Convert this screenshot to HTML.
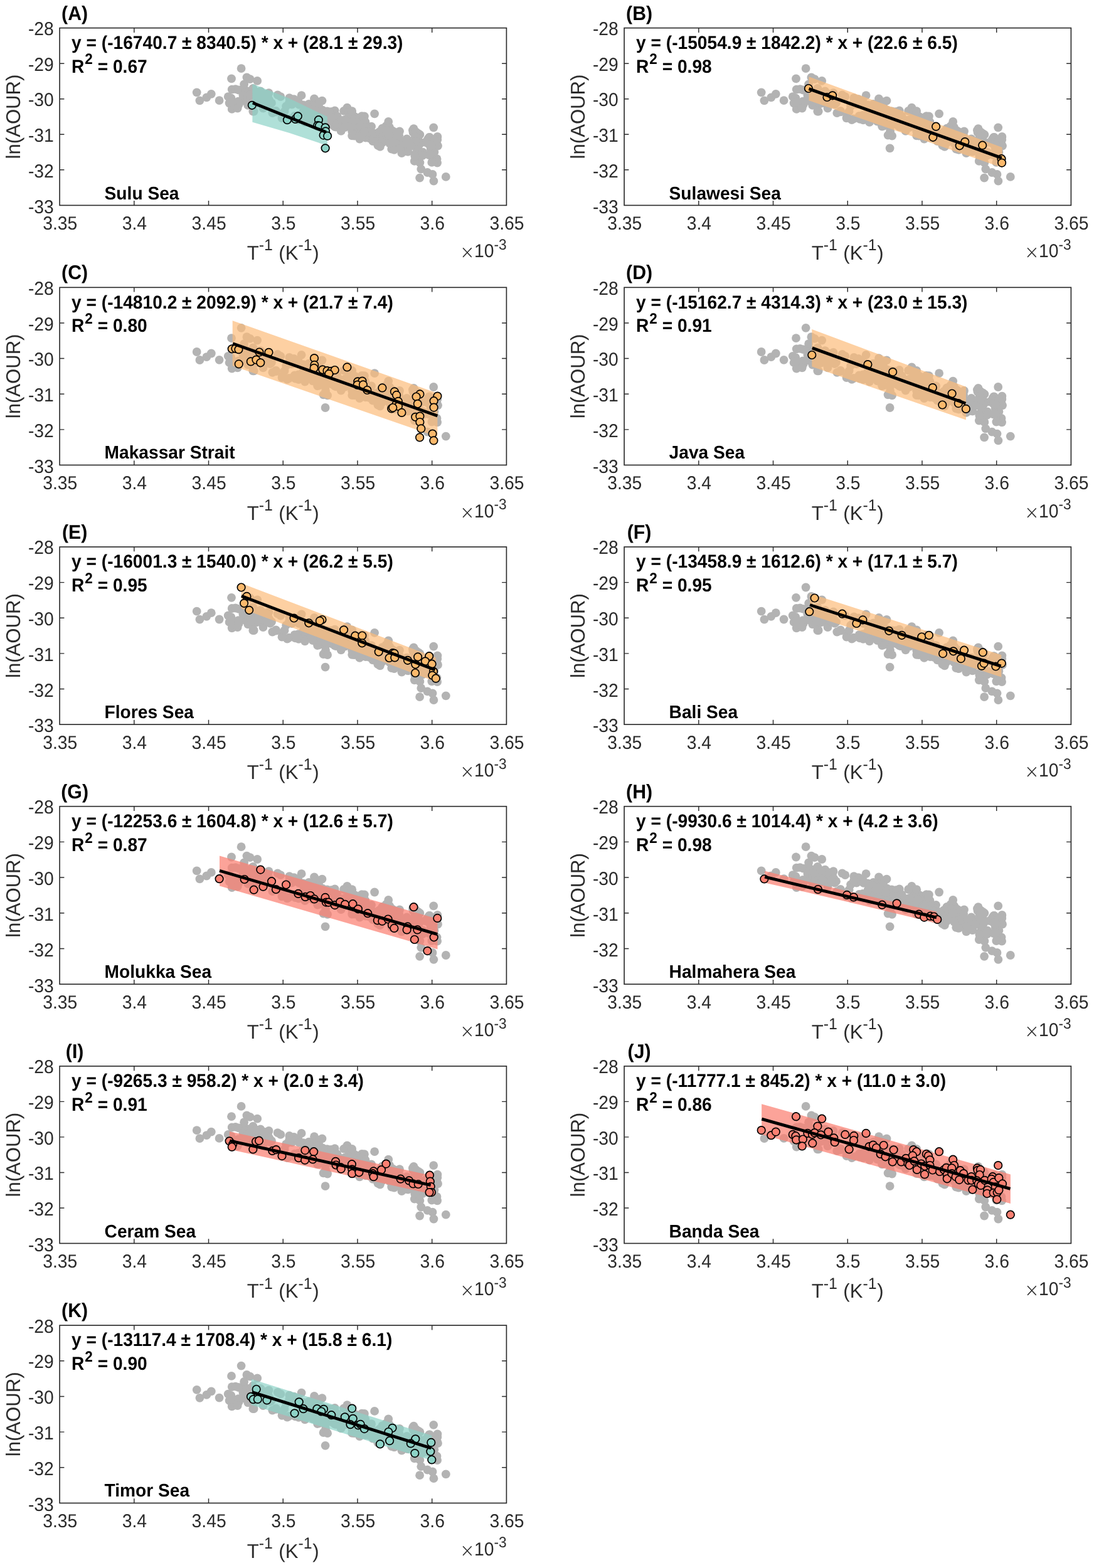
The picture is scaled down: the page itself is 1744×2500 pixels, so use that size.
<!DOCTYPE html>
<html lang="en"><head><meta charset="utf-8"><title>ln(AOUR) versus inverse temperature for eleven Indonesian seas</title>
<style>
html,body{margin:0;padding:0;background:#fff}
body{width:1744px;height:2500px;overflow:hidden}
svg{display:block;font-family:"Liberation Sans",sans-serif;text-rendering:geometricPrecision}
</style></head><body>
<svg width="1744" height="2500" viewBox="0 0 1744 2500">
<rect width="1744" height="2500" fill="#fff"/>
<defs><g id="cloud" fill="#b3b3b3"><circle cx="306.7" cy="123.2" r="6.9"/><circle cx="362.8" cy="146.6" r="6.9"/><circle cx="375.7" cy="145.3" r="6.9"/><circle cx="379.7" cy="140.7" r="6.9"/><circle cx="412.8" cy="146.6" r="6.9"/><circle cx="411.1" cy="155.4" r="6.9"/><circle cx="413.8" cy="156.0" r="6.9"/><circle cx="423.5" cy="158.7" r="6.9"/><circle cx="424.0" cy="164.8" r="6.9"/><circle cx="420.5" cy="171.0" r="6.9"/><circle cx="427.0" cy="172.1" r="6.9"/><circle cx="423.5" cy="191.7" r="6.9"/><circle cx="293.8" cy="96.4" r="6.9"/><circle cx="323.4" cy="110.4" r="6.9"/><circle cx="332.0" cy="107.7" r="6.9"/><circle cx="497.0" cy="157.1" r="6.9"/><circle cx="492.2" cy="174.2" r="6.9"/><circle cx="534.6" cy="187.7" r="6.9"/><circle cx="543.2" cy="181.5" r="6.9"/><circle cx="571.1" cy="187.1" r="6.9"/><circle cx="601.4" cy="208.6" r="6.9"/><circle cx="602.0" cy="215.0" r="6.9"/><circle cx="274.6" cy="98.0" r="6.9"/><circle cx="280.3" cy="97.5" r="6.9"/><circle cx="285.3" cy="98.9" r="6.9"/><circle cx="285.6" cy="122.1" r="6.9"/><circle cx="304.7" cy="118.1" r="6.9"/><circle cx="313.3" cy="115.3" r="6.9"/><circle cx="320.2" cy="120.0" r="6.9"/><circle cx="318.3" cy="103.2" r="6.9"/><circle cx="333.4" cy="103.5" r="6.9"/><circle cx="405.9" cy="112.8" r="6.9"/><circle cx="406.2" cy="123.6" r="6.9"/><circle cx="405.5" cy="128.6" r="6.9"/><circle cx="419.2" cy="131.0" r="6.9"/><circle cx="426.4" cy="132.8" r="6.9"/><circle cx="432.9" cy="133.5" r="6.9"/><circle cx="438.6" cy="131.7" r="6.9"/><circle cx="429.3" cy="137.8" r="6.9"/><circle cx="458.3" cy="127.1" r="6.9"/><circle cx="475.2" cy="150.0" r="6.9"/><circle cx="482.4" cy="149.3" r="6.9"/><circle cx="474.5" cy="155.4" r="6.9"/><circle cx="483.8" cy="155.1" r="6.9"/><circle cx="490.3" cy="163.7" r="6.9"/><circle cx="514.3" cy="160.1" r="6.9"/><circle cx="533.8" cy="166.1" r="6.9"/><circle cx="537.0" cy="171.6" r="6.9"/><circle cx="539.8" cy="181.6" r="6.9"/><circle cx="536.2" cy="186.7" r="6.9"/><circle cx="539.8" cy="189.5" r="6.9"/><circle cx="529.1" cy="193.1" r="6.9"/><circle cx="531.2" cy="191.7" r="6.9"/><circle cx="545.3" cy="199.6" r="6.9"/><circle cx="574.3" cy="170.1" r="6.9"/><circle cx="568.5" cy="174.2" r="6.9"/><circle cx="570.7" cy="185.5" r="6.9"/><circle cx="567.1" cy="206.5" r="6.9"/><circle cx="574.3" cy="205.3" r="6.9"/><circle cx="574.3" cy="214.7" r="6.9"/><circle cx="576.2" cy="225.1" r="6.9"/><circle cx="574.0" cy="239.1" r="6.9"/><circle cx="602.3" cy="173.3" r="6.9"/><circle cx="596.5" cy="180.9" r="6.9"/><circle cx="596.5" cy="191.3" r="6.9"/><circle cx="594.4" cy="233.3" r="6.9"/><circle cx="596.3" cy="244.1" r="6.9"/><circle cx="299.2" cy="107.7" r="6.9"/><circle cx="388.3" cy="122.8" r="6.9"/><circle cx="428.1" cy="134.8" r="6.9"/><circle cx="491.7" cy="159.8" r="6.9"/><circle cx="522.5" cy="169.2" r="6.9"/><circle cx="507.2" cy="187.2" r="6.9"/><circle cx="532.7" cy="184.8" r="6.9"/><circle cx="544.8" cy="193.6" r="6.9"/><circle cx="289.5" cy="64.5" r="6.9"/><circle cx="298.3" cy="78.9" r="6.9"/><circle cx="294.0" cy="89.8" r="6.9"/><circle cx="302.1" cy="100.8" r="6.9"/><circle cx="373.5" cy="113.5" r="6.9"/><circle cx="397.2" cy="121.3" r="6.9"/><circle cx="418.4" cy="116.0" r="6.9"/><circle cx="414.7" cy="117.9" r="6.9"/><circle cx="453.0" cy="132.3" r="6.9"/><circle cx="471.1" cy="141.7" r="6.9"/><circle cx="482.3" cy="141.5" r="6.9"/><circle cx="482.1" cy="153.3" r="6.9"/><circle cx="508.6" cy="167.3" r="6.9"/><circle cx="531.0" cy="169.2" r="6.9"/><circle cx="533.5" cy="169.8" r="6.9"/><circle cx="525.4" cy="177.0" r="6.9"/><circle cx="534.2" cy="176.4" r="6.9"/><circle cx="554.8" cy="180.8" r="6.9"/><circle cx="571.0" cy="175.4" r="6.9"/><circle cx="567.2" cy="187.3" r="6.9"/><circle cx="589.1" cy="174.2" r="6.9"/><circle cx="582.8" cy="182.3" r="6.9"/><circle cx="593.5" cy="186.7" r="6.9"/><circle cx="566.9" cy="201.0" r="6.9"/><circle cx="595.9" cy="198.5" r="6.9"/><circle cx="594.1" cy="204.8" r="6.9"/><circle cx="599.7" cy="209.7" r="6.9"/><circle cx="303.5" cy="81.5" r="6.9"/><circle cx="295.2" cy="103.2" r="6.9"/><circle cx="347.5" cy="106.7" r="6.9"/><circle cx="380.3" cy="116.4" r="6.9"/><circle cx="370.3" cy="122.0" r="6.9"/><circle cx="422.1" cy="133.8" r="6.9"/><circle cx="442.5" cy="140.8" r="6.9"/><circle cx="474.2" cy="143.5" r="6.9"/><circle cx="485.8" cy="140.8" r="6.9"/><circle cx="508.0" cy="170.1" r="6.9"/><circle cx="524.7" cy="166.3" r="6.9"/><circle cx="541.9" cy="164.7" r="6.9"/><circle cx="536.8" cy="178.1" r="6.9"/><circle cx="571.7" cy="168.2" r="6.9"/><circle cx="569.8" cy="189.7" r="6.9"/><circle cx="573.5" cy="185.6" r="6.9"/><circle cx="592.3" cy="190.5" r="6.9"/><circle cx="601.7" cy="185.6" r="6.9"/><circle cx="254.5" cy="115.5" r="6.9"/><circle cx="294.6" cy="116.3" r="6.9"/><circle cx="320.2" cy="100.9" r="6.9"/><circle cx="309.6" cy="133.0" r="6.9"/><circle cx="324.4" cy="128.0" r="6.9"/><circle cx="337.9" cy="119.5" r="6.9"/><circle cx="344.8" cy="132.3" r="6.9"/><circle cx="361.0" cy="124.8" r="6.9"/><circle cx="380.3" cy="139.2" r="6.9"/><circle cx="391.6" cy="144.2" r="6.9"/><circle cx="399.7" cy="142.3" r="6.9"/><circle cx="405.9" cy="147.7" r="6.9"/><circle cx="423.4" cy="145.2" r="6.9"/><circle cx="424.7" cy="152.9" r="6.9"/><circle cx="428.6" cy="153.0" r="6.9"/><circle cx="438.6" cy="157.4" r="6.9"/><circle cx="447.1" cy="152.4" r="6.9"/><circle cx="454.9" cy="156.1" r="6.9"/><circle cx="467.3" cy="155.5" r="6.9"/><circle cx="475.8" cy="163.6" r="6.9"/><circle cx="491.1" cy="170.5" r="6.9"/><circle cx="506.7" cy="181.7" r="6.9"/><circle cx="514.2" cy="183.0" r="6.9"/><circle cx="523.5" cy="179.8" r="6.9"/><circle cx="529.8" cy="189.2" r="6.9"/><circle cx="533.3" cy="194.2" r="6.9"/><circle cx="554.7" cy="191.7" r="6.9"/><circle cx="553.5" cy="196.7" r="6.9"/><circle cx="570.3" cy="196.7" r="6.9"/><circle cx="564.4" cy="160.5" r="6.9"/><circle cx="602.2" cy="178.2" r="6.9"/><circle cx="565.7" cy="212.3" r="6.9"/><circle cx="596.6" cy="208.6" r="6.9"/><circle cx="586.3" cy="230.4" r="6.9"/><circle cx="223.3" cy="115.7" r="6.9"/><circle cx="308.9" cy="132.3" r="6.9"/><circle cx="355.0" cy="141.2" r="6.9"/><circle cx="365.8" cy="144.7" r="6.9"/><circle cx="411.1" cy="157.0" r="6.9"/><circle cx="434.5" cy="154.6" r="6.9"/><circle cx="469.7" cy="172.0" r="6.9"/><circle cx="478.2" cy="176.9" r="6.9"/><circle cx="487.9" cy="175.0" r="6.9"/><circle cx="493.8" cy="175.8" r="6.9"/><circle cx="499.2" cy="180.4" r="6.9"/><circle cx="270.5" cy="119.9" r="6.9"/><circle cx="276.1" cy="124.9" r="6.9"/><circle cx="274.6" cy="129.3" r="6.9"/><circle cx="312.9" cy="120.6" r="6.9"/><circle cx="317.9" cy="119.3" r="6.9"/><circle cx="308.2" cy="133.0" r="6.9"/><circle cx="339.2" cy="135.5" r="6.9"/><circle cx="345.1" cy="133.7" r="6.9"/><circle cx="354.4" cy="143.7" r="6.9"/><circle cx="381.0" cy="146.8" r="6.9"/><circle cx="391.3" cy="134.7" r="6.9"/><circle cx="405.1" cy="136.8" r="6.9"/><circle cx="391.0" cy="150.3" r="6.9"/><circle cx="403.5" cy="149.0" r="6.9"/><circle cx="439.9" cy="152.4" r="6.9"/><circle cx="440.5" cy="158.1" r="6.9"/><circle cx="448.0" cy="161.8" r="6.9"/><circle cx="448.6" cy="164.3" r="6.9"/><circle cx="465.8" cy="156.8" r="6.9"/><circle cx="466.1" cy="164.9" r="6.9"/><circle cx="466.1" cy="171.8" r="6.9"/><circle cx="477.3" cy="169.9" r="6.9"/><circle cx="500.4" cy="168.0" r="6.9"/><circle cx="499.2" cy="171.8" r="6.9"/><circle cx="500.4" cy="176.8" r="6.9"/><circle cx="512.9" cy="165.8" r="6.9"/><circle cx="520.4" cy="156.2" r="6.9"/><circle cx="543.5" cy="180.3" r="6.9"/><circle cx="557.0" cy="183.0" r="6.9"/><circle cx="563.5" cy="188.0" r="6.9"/><circle cx="571.6" cy="188.6" r="6.9"/><circle cx="589.9" cy="174.3" r="6.9"/><circle cx="590.7" cy="184.3" r="6.9"/><circle cx="591.6" cy="192.4" r="6.9"/><circle cx="592.8" cy="201.7" r="6.9"/><circle cx="589.4" cy="201.7" r="6.9"/><circle cx="218.6" cy="102.7" r="6.9"/><circle cx="234.2" cy="110.8" r="6.9"/><circle cx="241.7" cy="105.2" r="6.9"/><circle cx="273.9" cy="80.8" r="6.9"/><circle cx="315.1" cy="84.3" r="6.9"/><circle cx="308.3" cy="96.2" r="6.9"/><circle cx="268.6" cy="109.5" r="6.9"/><circle cx="273.3" cy="111.8" r="6.9"/><circle cx="274.2" cy="118.0" r="6.9"/><circle cx="284.8" cy="117.1" r="6.9"/><circle cx="283.6" cy="128.0" r="6.9"/><circle cx="292.3" cy="107.4" r="6.9"/><circle cx="299.8" cy="109.3" r="6.9"/><circle cx="303.5" cy="106.8" r="6.9"/><circle cx="300.2" cy="123.3" r="6.9"/><circle cx="313.5" cy="109.9" r="6.9"/><circle cx="325.4" cy="105.2" r="6.9"/><circle cx="334.1" cy="114.9" r="6.9"/><circle cx="335.6" cy="121.8" r="6.9"/><circle cx="352.2" cy="109.5" r="6.9"/><circle cx="366.2" cy="111.5" r="6.9"/><circle cx="365.9" cy="118.6" r="6.9"/><circle cx="358.5" cy="133.0" r="6.9"/><circle cx="385.5" cy="107.5" r="6.9"/><circle cx="390.5" cy="128.7" r="6.9"/><circle cx="396.8" cy="126.2" r="6.9"/><circle cx="401.8" cy="130.6" r="6.9"/><circle cx="413.6" cy="126.6" r="6.9"/><circle cx="408.6" cy="140.5" r="6.9"/><circle cx="416.4" cy="144.9" r="6.9"/><circle cx="429.5" cy="133.9" r="6.9"/><circle cx="427.7" cy="153.0" r="6.9"/><circle cx="441.7" cy="153.0" r="6.9"/><circle cx="449.2" cy="147.4" r="6.9"/><circle cx="452.3" cy="155.5" r="6.9"/><circle cx="455.4" cy="154.3" r="6.9"/><circle cx="454.8" cy="158.6" r="6.9"/><circle cx="461.1" cy="133.7" r="6.9"/><circle cx="466.0" cy="136.8" r="6.9"/><circle cx="459.8" cy="143.0" r="6.9"/><circle cx="462.3" cy="151.8" r="6.9"/><circle cx="466.7" cy="165.5" r="6.9"/><circle cx="473.5" cy="156.1" r="6.9"/><circle cx="479.2" cy="159.9" r="6.9"/><circle cx="478.9" cy="173.0" r="6.9"/><circle cx="481.7" cy="140.5" r="6.9"/><circle cx="484.8" cy="143.3" r="6.9"/><circle cx="487.3" cy="149.9" r="6.9"/><circle cx="487.3" cy="158.6" r="6.9"/><circle cx="491.6" cy="166.1" r="6.9"/><circle cx="502.0" cy="136.8" r="6.9"/><circle cx="502.9" cy="168.6" r="6.9"/><circle cx="509.7" cy="165.5" r="6.9"/><circle cx="513.5" cy="162.4" r="6.9"/><circle cx="514.7" cy="173.6" r="6.9"/><circle cx="514.7" cy="179.9" r="6.9"/><circle cx="524.1" cy="149.3" r="6.9"/><circle cx="526.0" cy="158.6" r="6.9"/><circle cx="522.2" cy="163.0" r="6.9"/><circle cx="522.2" cy="171.7" r="6.9"/><circle cx="528.5" cy="176.7" r="6.9"/><circle cx="534.1" cy="181.7" r="6.9"/><circle cx="535.7" cy="166.8" r="6.9"/><circle cx="541.0" cy="171.7" r="6.9"/><circle cx="548.4" cy="182.4" r="6.9"/><circle cx="553.4" cy="176.7" r="6.9"/><circle cx="553.4" cy="182.4" r="6.9"/><circle cx="555.3" cy="197.3" r="6.9"/><circle cx="562.8" cy="163.0" r="6.9"/><circle cx="563.4" cy="166.4" r="6.9"/><circle cx="567.8" cy="165.5" r="6.9"/><circle cx="566.5" cy="173.6" r="6.9"/><circle cx="562.2" cy="183.0" r="6.9"/><circle cx="564.7" cy="188.0" r="6.9"/><circle cx="568.4" cy="190.5" r="6.9"/><circle cx="574.7" cy="182.4" r="6.9"/><circle cx="579.0" cy="198.0" r="6.9"/><circle cx="578.4" cy="203.6" r="6.9"/><circle cx="587.3" cy="176.8" r="6.9"/><circle cx="585.5" cy="180.5" r="6.9"/><circle cx="588.6" cy="185.5" r="6.9"/><circle cx="591.7" cy="193.0" r="6.9"/><circle cx="597.3" cy="178.7" r="6.9"/><circle cx="602.9" cy="188.0" r="6.9"/><circle cx="596.1" cy="158.7" r="6.9"/><circle cx="588.6" cy="202.4" r="6.9"/><circle cx="594.6" cy="201.8" r="6.9"/><circle cx="597.3" cy="198.0" r="6.9"/><circle cx="594.2" cy="213.0" r="6.9"/><circle cx="615.7" cy="237.3" r="6.9"/><circle cx="313.6" cy="101.9" r="6.9"/><circle cx="304.8" cy="113.7" r="6.9"/><circle cx="308.6" cy="118.1" r="6.9"/><circle cx="315.7" cy="117.8" r="6.9"/><circle cx="330.4" cy="119.3" r="6.9"/><circle cx="381.6" cy="122.2" r="6.9"/><circle cx="374.5" cy="140.2" r="6.9"/><circle cx="388.5" cy="133.1" r="6.9"/><circle cx="410.3" cy="133.1" r="6.9"/><circle cx="420.9" cy="133.7" r="6.9"/><circle cx="417.2" cy="137.4" r="6.9"/><circle cx="433.2" cy="143.1" r="6.9"/><circle cx="454.7" cy="146.2" r="6.9"/><circle cx="466.1" cy="132.5" r="6.9"/><circle cx="467.6" cy="148.7" r="6.9"/><circle cx="463.4" cy="158.1" r="6.9"/><circle cx="476.1" cy="159.3" r="6.9"/><circle cx="479.6" cy="157.8" r="6.9"/><circle cx="485.8" cy="165.0" r="6.9"/><circle cx="530.4" cy="163.7" r="6.9"/><circle cx="524.2" cy="169.9" r="6.9"/><circle cx="526.0" cy="184.1" r="6.9"/><circle cx="510.8" cy="189.3" r="6.9"/><circle cx="567.2" cy="181.2" r="6.9"/><circle cx="559.7" cy="188.3" r="6.9"/><circle cx="566.2" cy="204.0" r="6.9"/><circle cx="592.2" cy="186.8" r="6.9"/><circle cx="591.2" cy="201.2" r="6.9"/><circle cx="593.2" cy="214.3" r="6.9"/></g></defs>
<g transform="translate(95.10,44.60)">
<use href="#cloud"/>
<polygon points="307.3,89.2 366.3,112.5 426.7,141.5 426.7,187.7 366.3,167.5 307.3,150.1" fill="#8dd3c7" fill-opacity="0.7"/>
<g fill="#8dd3c7" stroke="#000" stroke-width="1.7"><circle cx="306.7" cy="123.2" r="6.25"/><circle cx="362.8" cy="146.6" r="6.25"/><circle cx="375.7" cy="145.3" r="6.25"/><circle cx="379.7" cy="140.7" r="6.25"/><circle cx="412.8" cy="146.6" r="6.25"/><circle cx="411.1" cy="155.4" r="6.25"/><circle cx="413.8" cy="156.0" r="6.25"/><circle cx="423.5" cy="158.7" r="6.25"/><circle cx="424.0" cy="164.8" r="6.25"/><circle cx="420.5" cy="171.0" r="6.25"/><circle cx="427.0" cy="172.1" r="6.25"/><circle cx="423.5" cy="191.7" r="6.25"/></g>
<line x1="307.80" y1="119.46" x2="424.83" y2="166.15" stroke="#000" stroke-width="4.9"/>
<rect x="0" y="0" width="712.3" height="282.8" fill="none" stroke="#2b2b2b" stroke-width="1.65"/>
<path d="M118.72 282.8v-7.3M118.72 0v7.3M237.43 282.8v-7.3M237.43 0v7.3M356.15 282.8v-7.3M356.15 0v7.3M474.87 282.8v-7.3M474.87 0v7.3M593.58 282.8v-7.3M593.58 0v7.3M0 56.56h7.3M712.3 56.56h-7.3M0 113.12h7.3M712.3 113.12h-7.3M0 169.68h7.3M712.3 169.68h-7.3M0 226.24h7.3M712.3 226.24h-7.3" stroke="#2b2b2b" stroke-width="1.45" fill="none"/>
<g fill="#2b2b2b">
<text transform="translate(0.60,321.20) scale(1,1.06)" font-size="28.3" text-anchor="middle">3.35</text>
<text transform="translate(119.32,321.20) scale(1,1.06)" font-size="28.3" text-anchor="middle">3.4</text>
<text transform="translate(238.03,321.20) scale(1,1.06)" font-size="28.3" text-anchor="middle">3.45</text>
<text transform="translate(356.75,321.20) scale(1,1.06)" font-size="28.3" text-anchor="middle">3.5</text>
<text transform="translate(475.47,321.20) scale(1,1.06)" font-size="28.3" text-anchor="middle">3.55</text>
<text transform="translate(594.18,321.20) scale(1,1.06)" font-size="28.3" text-anchor="middle">3.6</text>
<text transform="translate(712.90,321.20) scale(1,1.06)" font-size="28.3" text-anchor="middle">3.65</text>
<text transform="translate(-9.30,11.40) scale(1,1.06)" font-size="28.3" text-anchor="end">-28</text>
<text transform="translate(-9.30,68.14) scale(1,1.06)" font-size="28.3" text-anchor="end">-29</text>
<text transform="translate(-9.30,124.88) scale(1,1.06)" font-size="28.3" text-anchor="end">-30</text>
<text transform="translate(-9.30,181.62) scale(1,1.06)" font-size="28.3" text-anchor="end">-31</text>
<text transform="translate(-9.30,238.36) scale(1,1.06)" font-size="28.3" text-anchor="end">-32</text>
<text transform="translate(-9.30,295.10) scale(1,1.06)" font-size="28.3" text-anchor="end">-33</text>
<text transform="translate(712.60,365.80) scale(1,1.06)" font-size="28.3" text-anchor="end"><tspan font-family="DejaVu Sans" font-weight="200" font-size="28.30" dy="1.9">×</tspan><tspan dy="-1.9" dx="-0.6">10</tspan><tspan font-size="22.64" dy="-11.60">-3</tspan></text>
<text transform="translate(356.15,369.80) scale(1,1.02)" font-size="31.1" text-anchor="middle">T<tspan font-size="24.88" dy="-14.62">-1</tspan><tspan dy="14.62" dx="0.8"> (K</tspan><tspan font-size="24.88" dy="-14.62">-1</tspan><tspan dy="14.62" dx="0.8">)</tspan></text>
<text transform="translate(-63.60,141.40) rotate(-90) scale(1,1.02)" font-size="31.1" text-anchor="middle">ln(AOUR)</text>
</g>
<g font-weight="bold" fill="#000">
<text transform="translate(24.00,-12.90) scale(1,1.05)" font-size="30.3" text-anchor="middle">(A)</text>
<text transform="translate(19.00,33.20) scale(1,1.06)" font-size="28.15">y = (-16740.7 ± 8340.5) * x + (28.1 ± 29.3)</text>
<text transform="translate(19.00,71.00) scale(1,1.06)" font-size="28.15">R<tspan dx="0.9" font-size="22.52" dy="-12.39">2</tspan><tspan dy="12.39"> = 0.67</tspan></text>
<text transform="translate(71.50,273.00) scale(1,1.03)" font-size="28.15">Sulu Sea</text>
</g>
</g>
<g transform="translate(995.10,44.60)">
<use href="#cloud"/>
<polygon points="294.4,77.6 602.5,190.3 602.5,222.6 294.4,115.7" fill="#fcbc7a" fill-opacity="0.7"/>
<g fill="#fcb96c" stroke="#000" stroke-width="1.7"><circle cx="293.8" cy="96.4" r="6.25"/><circle cx="323.4" cy="110.4" r="6.25"/><circle cx="332.0" cy="107.7" r="6.25"/><circle cx="497.0" cy="157.1" r="6.25"/><circle cx="492.2" cy="174.2" r="6.25"/><circle cx="534.6" cy="187.7" r="6.25"/><circle cx="543.2" cy="181.5" r="6.25"/><circle cx="571.1" cy="187.1" r="6.25"/><circle cx="601.4" cy="208.6" r="6.25"/><circle cx="602.0" cy="215.0" r="6.25"/></g>
<line x1="294.38" y1="96.97" x2="601.72" y2="207.22" stroke="#000" stroke-width="4.9"/>
<rect x="0" y="0" width="712.3" height="282.8" fill="none" stroke="#2b2b2b" stroke-width="1.65"/>
<path d="M118.72 282.8v-7.3M118.72 0v7.3M237.43 282.8v-7.3M237.43 0v7.3M356.15 282.8v-7.3M356.15 0v7.3M474.87 282.8v-7.3M474.87 0v7.3M593.58 282.8v-7.3M593.58 0v7.3M0 56.56h7.3M712.3 56.56h-7.3M0 113.12h7.3M712.3 113.12h-7.3M0 169.68h7.3M712.3 169.68h-7.3M0 226.24h7.3M712.3 226.24h-7.3" stroke="#2b2b2b" stroke-width="1.45" fill="none"/>
<g fill="#2b2b2b">
<text transform="translate(0.60,321.20) scale(1,1.06)" font-size="28.3" text-anchor="middle">3.35</text>
<text transform="translate(119.32,321.20) scale(1,1.06)" font-size="28.3" text-anchor="middle">3.4</text>
<text transform="translate(238.03,321.20) scale(1,1.06)" font-size="28.3" text-anchor="middle">3.45</text>
<text transform="translate(356.75,321.20) scale(1,1.06)" font-size="28.3" text-anchor="middle">3.5</text>
<text transform="translate(475.47,321.20) scale(1,1.06)" font-size="28.3" text-anchor="middle">3.55</text>
<text transform="translate(594.18,321.20) scale(1,1.06)" font-size="28.3" text-anchor="middle">3.6</text>
<text transform="translate(712.90,321.20) scale(1,1.06)" font-size="28.3" text-anchor="middle">3.65</text>
<text transform="translate(-9.30,11.40) scale(1,1.06)" font-size="28.3" text-anchor="end">-28</text>
<text transform="translate(-9.30,68.14) scale(1,1.06)" font-size="28.3" text-anchor="end">-29</text>
<text transform="translate(-9.30,124.88) scale(1,1.06)" font-size="28.3" text-anchor="end">-30</text>
<text transform="translate(-9.30,181.62) scale(1,1.06)" font-size="28.3" text-anchor="end">-31</text>
<text transform="translate(-9.30,238.36) scale(1,1.06)" font-size="28.3" text-anchor="end">-32</text>
<text transform="translate(-9.30,295.10) scale(1,1.06)" font-size="28.3" text-anchor="end">-33</text>
<text transform="translate(712.60,365.80) scale(1,1.06)" font-size="28.3" text-anchor="end"><tspan font-family="DejaVu Sans" font-weight="200" font-size="28.30" dy="1.9">×</tspan><tspan dy="-1.9" dx="-0.6">10</tspan><tspan font-size="22.64" dy="-11.60">-3</tspan></text>
<text transform="translate(356.15,369.80) scale(1,1.02)" font-size="31.1" text-anchor="middle">T<tspan font-size="24.88" dy="-14.62">-1</tspan><tspan dy="14.62" dx="0.8"> (K</tspan><tspan font-size="24.88" dy="-14.62">-1</tspan><tspan dy="14.62" dx="0.8">)</tspan></text>
<text transform="translate(-63.60,141.40) rotate(-90) scale(1,1.02)" font-size="31.1" text-anchor="middle">ln(AOUR)</text>
</g>
<g font-weight="bold" fill="#000">
<text transform="translate(24.00,-12.90) scale(1,1.05)" font-size="30.3" text-anchor="middle">(B)</text>
<text transform="translate(19.00,33.20) scale(1,1.06)" font-size="28.15">y = (-15054.9 ± 1842.2) * x + (22.6 ± 6.5)</text>
<text transform="translate(19.00,71.00) scale(1,1.06)" font-size="28.15">R<tspan dx="0.9" font-size="22.52" dy="-12.39">2</tspan><tspan dy="12.39"> = 0.98</tspan></text>
<text transform="translate(71.50,273.00) scale(1,1.03)" font-size="28.15">Sulawesi Sea</text>
</g>
</g>
<g transform="translate(95.10,458.30)">
<use href="#cloud"/>
<polygon points="275.6,52.9 602.3,168.7 602.3,238.3 275.6,125.0" fill="#fcbc7a" fill-opacity="0.7"/>
<g fill="#fcb96c" stroke="#000" stroke-width="1.7"><circle cx="274.6" cy="98.0" r="6.25"/><circle cx="280.3" cy="97.5" r="6.25"/><circle cx="285.3" cy="98.9" r="6.25"/><circle cx="285.6" cy="122.1" r="6.25"/><circle cx="304.7" cy="118.1" r="6.25"/><circle cx="313.3" cy="115.3" r="6.25"/><circle cx="320.2" cy="120.0" r="6.25"/><circle cx="318.3" cy="103.2" r="6.25"/><circle cx="333.4" cy="103.5" r="6.25"/><circle cx="405.9" cy="112.8" r="6.25"/><circle cx="406.2" cy="123.6" r="6.25"/><circle cx="405.5" cy="128.6" r="6.25"/><circle cx="419.2" cy="131.0" r="6.25"/><circle cx="426.4" cy="132.8" r="6.25"/><circle cx="432.9" cy="133.5" r="6.25"/><circle cx="438.6" cy="131.7" r="6.25"/><circle cx="429.3" cy="137.8" r="6.25"/><circle cx="458.3" cy="127.1" r="6.25"/><circle cx="475.2" cy="150.0" r="6.25"/><circle cx="482.4" cy="149.3" r="6.25"/><circle cx="474.5" cy="155.4" r="6.25"/><circle cx="483.8" cy="155.1" r="6.25"/><circle cx="490.3" cy="163.7" r="6.25"/><circle cx="514.3" cy="160.1" r="6.25"/><circle cx="533.8" cy="166.1" r="6.25"/><circle cx="537.0" cy="171.6" r="6.25"/><circle cx="539.8" cy="181.6" r="6.25"/><circle cx="536.2" cy="186.7" r="6.25"/><circle cx="539.8" cy="189.5" r="6.25"/><circle cx="529.1" cy="193.1" r="6.25"/><circle cx="531.2" cy="191.7" r="6.25"/><circle cx="545.3" cy="199.6" r="6.25"/><circle cx="574.3" cy="170.1" r="6.25"/><circle cx="568.5" cy="174.2" r="6.25"/><circle cx="570.7" cy="185.5" r="6.25"/><circle cx="567.1" cy="206.5" r="6.25"/><circle cx="574.3" cy="205.3" r="6.25"/><circle cx="574.3" cy="214.7" r="6.25"/><circle cx="576.2" cy="225.1" r="6.25"/><circle cx="574.0" cy="239.1" r="6.25"/><circle cx="602.3" cy="173.3" r="6.25"/><circle cx="596.5" cy="180.9" r="6.25"/><circle cx="596.5" cy="191.3" r="6.25"/><circle cx="594.4" cy="233.3" r="6.25"/><circle cx="596.3" cy="244.1" r="6.25"/></g>
<line x1="275.99" y1="89.50" x2="602.28" y2="204.66" stroke="#000" stroke-width="4.9"/>
<rect x="0" y="0" width="712.3" height="283.2" fill="none" stroke="#2b2b2b" stroke-width="1.65"/>
<path d="M118.72 283.2v-7.3M118.72 0v7.3M237.43 283.2v-7.3M237.43 0v7.3M356.15 283.2v-7.3M356.15 0v7.3M474.87 283.2v-7.3M474.87 0v7.3M593.58 283.2v-7.3M593.58 0v7.3M0 56.64h7.3M712.3 56.64h-7.3M0 113.28h7.3M712.3 113.28h-7.3M0 169.92h7.3M712.3 169.92h-7.3M0 226.56h7.3M712.3 226.56h-7.3" stroke="#2b2b2b" stroke-width="1.45" fill="none"/>
<g fill="#2b2b2b">
<text transform="translate(0.60,321.60) scale(1,1.06)" font-size="28.3" text-anchor="middle">3.35</text>
<text transform="translate(119.32,321.60) scale(1,1.06)" font-size="28.3" text-anchor="middle">3.4</text>
<text transform="translate(238.03,321.60) scale(1,1.06)" font-size="28.3" text-anchor="middle">3.45</text>
<text transform="translate(356.75,321.60) scale(1,1.06)" font-size="28.3" text-anchor="middle">3.5</text>
<text transform="translate(475.47,321.60) scale(1,1.06)" font-size="28.3" text-anchor="middle">3.55</text>
<text transform="translate(594.18,321.60) scale(1,1.06)" font-size="28.3" text-anchor="middle">3.6</text>
<text transform="translate(712.90,321.60) scale(1,1.06)" font-size="28.3" text-anchor="middle">3.65</text>
<text transform="translate(-9.30,11.40) scale(1,1.06)" font-size="28.3" text-anchor="end">-28</text>
<text transform="translate(-9.30,68.22) scale(1,1.06)" font-size="28.3" text-anchor="end">-29</text>
<text transform="translate(-9.30,125.04) scale(1,1.06)" font-size="28.3" text-anchor="end">-30</text>
<text transform="translate(-9.30,181.86) scale(1,1.06)" font-size="28.3" text-anchor="end">-31</text>
<text transform="translate(-9.30,238.68) scale(1,1.06)" font-size="28.3" text-anchor="end">-32</text>
<text transform="translate(-9.30,295.50) scale(1,1.06)" font-size="28.3" text-anchor="end">-33</text>
<text transform="translate(712.60,366.20) scale(1,1.06)" font-size="28.3" text-anchor="end"><tspan font-family="DejaVu Sans" font-weight="200" font-size="28.30" dy="1.9">×</tspan><tspan dy="-1.9" dx="-0.6">10</tspan><tspan font-size="22.64" dy="-11.60">-3</tspan></text>
<text transform="translate(356.15,370.20) scale(1,1.02)" font-size="31.1" text-anchor="middle">T<tspan font-size="24.88" dy="-14.62">-1</tspan><tspan dy="14.62" dx="0.8"> (K</tspan><tspan font-size="24.88" dy="-14.62">-1</tspan><tspan dy="14.62" dx="0.8">)</tspan></text>
<text transform="translate(-63.60,141.60) rotate(-90) scale(1,1.02)" font-size="31.1" text-anchor="middle">ln(AOUR)</text>
</g>
<g font-weight="bold" fill="#000">
<text transform="translate(24.00,-12.90) scale(1,1.05)" font-size="30.3" text-anchor="middle">(C)</text>
<text transform="translate(19.00,33.20) scale(1,1.06)" font-size="28.15">y = (-14810.2 ± 2092.9) * x + (21.7 ± 7.4)</text>
<text transform="translate(19.00,71.00) scale(1,1.06)" font-size="28.15">R<tspan dx="0.9" font-size="22.52" dy="-12.39">2</tspan><tspan dy="12.39"> = 0.80</tspan></text>
<text transform="translate(71.50,273.00) scale(1,1.03)" font-size="28.15">Makassar Strait</text>
</g>
</g>
<g transform="translate(995.10,458.30)">
<use href="#cloud"/>
<polygon points="299.2,66.7 544.8,158.5 544.8,211.3 299.2,126.3" fill="#fcbc7a" fill-opacity="0.7"/>
<g fill="#fcb96c" stroke="#000" stroke-width="1.7"><circle cx="299.2" cy="107.7" r="6.25"/><circle cx="388.3" cy="122.8" r="6.25"/><circle cx="428.1" cy="134.8" r="6.25"/><circle cx="491.7" cy="159.8" r="6.25"/><circle cx="522.5" cy="169.2" r="6.25"/><circle cx="507.2" cy="187.2" r="6.25"/><circle cx="532.7" cy="184.8" r="6.25"/><circle cx="544.8" cy="193.6" r="6.25"/></g>
<line x1="299.75" y1="96.57" x2="544.28" y2="184.92" stroke="#000" stroke-width="4.9"/>
<rect x="0" y="0" width="712.3" height="283.2" fill="none" stroke="#2b2b2b" stroke-width="1.65"/>
<path d="M118.72 283.2v-7.3M118.72 0v7.3M237.43 283.2v-7.3M237.43 0v7.3M356.15 283.2v-7.3M356.15 0v7.3M474.87 283.2v-7.3M474.87 0v7.3M593.58 283.2v-7.3M593.58 0v7.3M0 56.64h7.3M712.3 56.64h-7.3M0 113.28h7.3M712.3 113.28h-7.3M0 169.92h7.3M712.3 169.92h-7.3M0 226.56h7.3M712.3 226.56h-7.3" stroke="#2b2b2b" stroke-width="1.45" fill="none"/>
<g fill="#2b2b2b">
<text transform="translate(0.60,321.60) scale(1,1.06)" font-size="28.3" text-anchor="middle">3.35</text>
<text transform="translate(119.32,321.60) scale(1,1.06)" font-size="28.3" text-anchor="middle">3.4</text>
<text transform="translate(238.03,321.60) scale(1,1.06)" font-size="28.3" text-anchor="middle">3.45</text>
<text transform="translate(356.75,321.60) scale(1,1.06)" font-size="28.3" text-anchor="middle">3.5</text>
<text transform="translate(475.47,321.60) scale(1,1.06)" font-size="28.3" text-anchor="middle">3.55</text>
<text transform="translate(594.18,321.60) scale(1,1.06)" font-size="28.3" text-anchor="middle">3.6</text>
<text transform="translate(712.90,321.60) scale(1,1.06)" font-size="28.3" text-anchor="middle">3.65</text>
<text transform="translate(-9.30,11.40) scale(1,1.06)" font-size="28.3" text-anchor="end">-28</text>
<text transform="translate(-9.30,68.22) scale(1,1.06)" font-size="28.3" text-anchor="end">-29</text>
<text transform="translate(-9.30,125.04) scale(1,1.06)" font-size="28.3" text-anchor="end">-30</text>
<text transform="translate(-9.30,181.86) scale(1,1.06)" font-size="28.3" text-anchor="end">-31</text>
<text transform="translate(-9.30,238.68) scale(1,1.06)" font-size="28.3" text-anchor="end">-32</text>
<text transform="translate(-9.30,295.50) scale(1,1.06)" font-size="28.3" text-anchor="end">-33</text>
<text transform="translate(712.60,366.20) scale(1,1.06)" font-size="28.3" text-anchor="end"><tspan font-family="DejaVu Sans" font-weight="200" font-size="28.30" dy="1.9">×</tspan><tspan dy="-1.9" dx="-0.6">10</tspan><tspan font-size="22.64" dy="-11.60">-3</tspan></text>
<text transform="translate(356.15,370.20) scale(1,1.02)" font-size="31.1" text-anchor="middle">T<tspan font-size="24.88" dy="-14.62">-1</tspan><tspan dy="14.62" dx="0.8"> (K</tspan><tspan font-size="24.88" dy="-14.62">-1</tspan><tspan dy="14.62" dx="0.8">)</tspan></text>
<text transform="translate(-63.60,141.60) rotate(-90) scale(1,1.02)" font-size="31.1" text-anchor="middle">ln(AOUR)</text>
</g>
<g font-weight="bold" fill="#000">
<text transform="translate(24.00,-12.90) scale(1,1.05)" font-size="30.3" text-anchor="middle">(D)</text>
<text transform="translate(19.00,33.20) scale(1,1.06)" font-size="28.15">y = (-15162.7 ± 4314.3) * x + (23.0 ± 15.3)</text>
<text transform="translate(19.00,71.00) scale(1,1.06)" font-size="28.15">R<tspan dx="0.9" font-size="22.52" dy="-12.39">2</tspan><tspan dy="12.39"> = 0.91</tspan></text>
<text transform="translate(71.50,273.00) scale(1,1.03)" font-size="28.15">Java Sea</text>
</g>
</g>
<g transform="translate(95.10,872.00)">
<use href="#cloud"/>
<polygon points="289.6,58.0 599.7,176.4 599.7,215.1 289.6,97.9" fill="#fcbc7a" fill-opacity="0.7"/>
<g fill="#fcb96c" stroke="#000" stroke-width="1.7"><circle cx="289.5" cy="64.5" r="6.25"/><circle cx="298.3" cy="78.9" r="6.25"/><circle cx="294.0" cy="89.8" r="6.25"/><circle cx="302.1" cy="100.8" r="6.25"/><circle cx="373.5" cy="113.5" r="6.25"/><circle cx="397.2" cy="121.3" r="6.25"/><circle cx="418.4" cy="116.0" r="6.25"/><circle cx="414.7" cy="117.9" r="6.25"/><circle cx="453.0" cy="132.3" r="6.25"/><circle cx="471.1" cy="141.7" r="6.25"/><circle cx="482.3" cy="141.5" r="6.25"/><circle cx="482.1" cy="153.3" r="6.25"/><circle cx="508.6" cy="167.3" r="6.25"/><circle cx="531.0" cy="169.2" r="6.25"/><circle cx="533.5" cy="169.8" r="6.25"/><circle cx="525.4" cy="177.0" r="6.25"/><circle cx="534.2" cy="176.4" r="6.25"/><circle cx="554.8" cy="180.8" r="6.25"/><circle cx="571.0" cy="175.4" r="6.25"/><circle cx="567.2" cy="187.3" r="6.25"/><circle cx="589.1" cy="174.2" r="6.25"/><circle cx="582.8" cy="182.3" r="6.25"/><circle cx="593.5" cy="186.7" r="6.25"/><circle cx="566.9" cy="201.0" r="6.25"/><circle cx="595.9" cy="198.5" r="6.25"/><circle cx="594.1" cy="204.8" r="6.25"/><circle cx="599.7" cy="209.7" r="6.25"/></g>
<line x1="289.85" y1="78.33" x2="598.45" y2="196.00" stroke="#000" stroke-width="4.9"/>
<rect x="0" y="0" width="712.3" height="283.1" fill="none" stroke="#2b2b2b" stroke-width="1.65"/>
<path d="M118.72 283.1v-7.3M118.72 0v7.3M237.43 283.1v-7.3M237.43 0v7.3M356.15 283.1v-7.3M356.15 0v7.3M474.87 283.1v-7.3M474.87 0v7.3M593.58 283.1v-7.3M593.58 0v7.3M0 56.62h7.3M712.3 56.62h-7.3M0 113.24h7.3M712.3 113.24h-7.3M0 169.86h7.3M712.3 169.86h-7.3M0 226.48h7.3M712.3 226.48h-7.3" stroke="#2b2b2b" stroke-width="1.45" fill="none"/>
<g fill="#2b2b2b">
<text transform="translate(0.60,321.50) scale(1,1.06)" font-size="28.3" text-anchor="middle">3.35</text>
<text transform="translate(119.32,321.50) scale(1,1.06)" font-size="28.3" text-anchor="middle">3.4</text>
<text transform="translate(238.03,321.50) scale(1,1.06)" font-size="28.3" text-anchor="middle">3.45</text>
<text transform="translate(356.75,321.50) scale(1,1.06)" font-size="28.3" text-anchor="middle">3.5</text>
<text transform="translate(475.47,321.50) scale(1,1.06)" font-size="28.3" text-anchor="middle">3.55</text>
<text transform="translate(594.18,321.50) scale(1,1.06)" font-size="28.3" text-anchor="middle">3.6</text>
<text transform="translate(712.90,321.50) scale(1,1.06)" font-size="28.3" text-anchor="middle">3.65</text>
<text transform="translate(-9.30,11.40) scale(1,1.06)" font-size="28.3" text-anchor="end">-28</text>
<text transform="translate(-9.30,68.20) scale(1,1.06)" font-size="28.3" text-anchor="end">-29</text>
<text transform="translate(-9.30,125.00) scale(1,1.06)" font-size="28.3" text-anchor="end">-30</text>
<text transform="translate(-9.30,181.80) scale(1,1.06)" font-size="28.3" text-anchor="end">-31</text>
<text transform="translate(-9.30,238.60) scale(1,1.06)" font-size="28.3" text-anchor="end">-32</text>
<text transform="translate(-9.30,295.40) scale(1,1.06)" font-size="28.3" text-anchor="end">-33</text>
<text transform="translate(712.60,366.10) scale(1,1.06)" font-size="28.3" text-anchor="end"><tspan font-family="DejaVu Sans" font-weight="200" font-size="28.30" dy="1.9">×</tspan><tspan dy="-1.9" dx="-0.6">10</tspan><tspan font-size="22.64" dy="-11.60">-3</tspan></text>
<text transform="translate(356.15,370.10) scale(1,1.02)" font-size="31.1" text-anchor="middle">T<tspan font-size="24.88" dy="-14.62">-1</tspan><tspan dy="14.62" dx="0.8"> (K</tspan><tspan font-size="24.88" dy="-14.62">-1</tspan><tspan dy="14.62" dx="0.8">)</tspan></text>
<text transform="translate(-63.60,141.55) rotate(-90) scale(1,1.02)" font-size="31.1" text-anchor="middle">ln(AOUR)</text>
</g>
<g font-weight="bold" fill="#000">
<text transform="translate(24.00,-12.90) scale(1,1.05)" font-size="30.3" text-anchor="middle">(E)</text>
<text transform="translate(19.00,33.20) scale(1,1.06)" font-size="28.15">y = (-16001.3 ± 1540.0) * x + (26.2 ± 5.5)</text>
<text transform="translate(19.00,71.00) scale(1,1.06)" font-size="28.15">R<tspan dx="0.9" font-size="22.52" dy="-12.39">2</tspan><tspan dy="12.39"> = 0.95</tspan></text>
<text transform="translate(71.50,273.00) scale(1,1.03)" font-size="28.15">Flores Sea</text>
</g>
</g>
<g transform="translate(995.10,872.00)">
<use href="#cloud"/>
<polygon points="296.0,74.2 601.2,172.2 601.2,207.6 296.0,108.3" fill="#fcbc7a" fill-opacity="0.7"/>
<g fill="#fcb96c" stroke="#000" stroke-width="1.7"><circle cx="303.5" cy="81.5" r="6.25"/><circle cx="295.2" cy="103.2" r="6.25"/><circle cx="347.5" cy="106.7" r="6.25"/><circle cx="380.3" cy="116.4" r="6.25"/><circle cx="370.3" cy="122.0" r="6.25"/><circle cx="422.1" cy="133.8" r="6.25"/><circle cx="442.5" cy="140.8" r="6.25"/><circle cx="474.2" cy="143.5" r="6.25"/><circle cx="485.8" cy="140.8" r="6.25"/><circle cx="508.0" cy="170.1" r="6.25"/><circle cx="524.7" cy="166.3" r="6.25"/><circle cx="541.9" cy="164.7" r="6.25"/><circle cx="536.8" cy="178.1" r="6.25"/><circle cx="571.7" cy="168.2" r="6.25"/><circle cx="569.8" cy="189.7" r="6.25"/><circle cx="573.5" cy="185.6" r="6.25"/><circle cx="592.3" cy="190.5" r="6.25"/><circle cx="601.7" cy="185.6" r="6.25"/></g>
<line x1="295.99" y1="92.49" x2="600.64" y2="190.19" stroke="#000" stroke-width="4.9"/>
<rect x="0" y="0" width="712.3" height="283.1" fill="none" stroke="#2b2b2b" stroke-width="1.65"/>
<path d="M118.72 283.1v-7.3M118.72 0v7.3M237.43 283.1v-7.3M237.43 0v7.3M356.15 283.1v-7.3M356.15 0v7.3M474.87 283.1v-7.3M474.87 0v7.3M593.58 283.1v-7.3M593.58 0v7.3M0 56.62h7.3M712.3 56.62h-7.3M0 113.24h7.3M712.3 113.24h-7.3M0 169.86h7.3M712.3 169.86h-7.3M0 226.48h7.3M712.3 226.48h-7.3" stroke="#2b2b2b" stroke-width="1.45" fill="none"/>
<g fill="#2b2b2b">
<text transform="translate(0.60,321.50) scale(1,1.06)" font-size="28.3" text-anchor="middle">3.35</text>
<text transform="translate(119.32,321.50) scale(1,1.06)" font-size="28.3" text-anchor="middle">3.4</text>
<text transform="translate(238.03,321.50) scale(1,1.06)" font-size="28.3" text-anchor="middle">3.45</text>
<text transform="translate(356.75,321.50) scale(1,1.06)" font-size="28.3" text-anchor="middle">3.5</text>
<text transform="translate(475.47,321.50) scale(1,1.06)" font-size="28.3" text-anchor="middle">3.55</text>
<text transform="translate(594.18,321.50) scale(1,1.06)" font-size="28.3" text-anchor="middle">3.6</text>
<text transform="translate(712.90,321.50) scale(1,1.06)" font-size="28.3" text-anchor="middle">3.65</text>
<text transform="translate(-9.30,11.40) scale(1,1.06)" font-size="28.3" text-anchor="end">-28</text>
<text transform="translate(-9.30,68.20) scale(1,1.06)" font-size="28.3" text-anchor="end">-29</text>
<text transform="translate(-9.30,125.00) scale(1,1.06)" font-size="28.3" text-anchor="end">-30</text>
<text transform="translate(-9.30,181.80) scale(1,1.06)" font-size="28.3" text-anchor="end">-31</text>
<text transform="translate(-9.30,238.60) scale(1,1.06)" font-size="28.3" text-anchor="end">-32</text>
<text transform="translate(-9.30,295.40) scale(1,1.06)" font-size="28.3" text-anchor="end">-33</text>
<text transform="translate(712.60,366.10) scale(1,1.06)" font-size="28.3" text-anchor="end"><tspan font-family="DejaVu Sans" font-weight="200" font-size="28.30" dy="1.9">×</tspan><tspan dy="-1.9" dx="-0.6">10</tspan><tspan font-size="22.64" dy="-11.60">-3</tspan></text>
<text transform="translate(356.15,370.10) scale(1,1.02)" font-size="31.1" text-anchor="middle">T<tspan font-size="24.88" dy="-14.62">-1</tspan><tspan dy="14.62" dx="0.8"> (K</tspan><tspan font-size="24.88" dy="-14.62">-1</tspan><tspan dy="14.62" dx="0.8">)</tspan></text>
<text transform="translate(-63.60,141.55) rotate(-90) scale(1,1.02)" font-size="31.1" text-anchor="middle">ln(AOUR)</text>
</g>
<g font-weight="bold" fill="#000">
<text transform="translate(24.00,-12.90) scale(1,1.05)" font-size="30.3" text-anchor="middle">(F)</text>
<text transform="translate(19.00,33.20) scale(1,1.06)" font-size="28.15">y = (-13458.9 ± 1612.6) * x + (17.1 ± 5.7)</text>
<text transform="translate(19.00,71.00) scale(1,1.06)" font-size="28.15">R<tspan dx="0.9" font-size="22.52" dy="-12.39">2</tspan><tspan dy="12.39"> = 0.95</tspan></text>
<text transform="translate(71.50,273.00) scale(1,1.03)" font-size="28.15">Bali Sea</text>
</g>
</g>
<g transform="translate(95.10,1285.70)">
<use href="#cloud"/>
<polygon points="254.9,78.9 602.4,179.2 602.4,227.9 254.9,126.7" fill="#fb8072" fill-opacity="0.72"/>
<g fill="#fb8072" stroke="#000" stroke-width="1.7"><circle cx="254.5" cy="115.5" r="6.25"/><circle cx="294.6" cy="116.3" r="6.25"/><circle cx="320.2" cy="100.9" r="6.25"/><circle cx="309.6" cy="133.0" r="6.25"/><circle cx="324.4" cy="128.0" r="6.25"/><circle cx="337.9" cy="119.5" r="6.25"/><circle cx="344.8" cy="132.3" r="6.25"/><circle cx="361.0" cy="124.8" r="6.25"/><circle cx="380.3" cy="139.2" r="6.25"/><circle cx="391.6" cy="144.2" r="6.25"/><circle cx="399.7" cy="142.3" r="6.25"/><circle cx="405.9" cy="147.7" r="6.25"/><circle cx="423.4" cy="145.2" r="6.25"/><circle cx="424.7" cy="152.9" r="6.25"/><circle cx="428.6" cy="153.0" r="6.25"/><circle cx="438.6" cy="157.4" r="6.25"/><circle cx="447.1" cy="152.4" r="6.25"/><circle cx="454.9" cy="156.1" r="6.25"/><circle cx="467.3" cy="155.5" r="6.25"/><circle cx="475.8" cy="163.6" r="6.25"/><circle cx="491.1" cy="170.5" r="6.25"/><circle cx="506.7" cy="181.7" r="6.25"/><circle cx="514.2" cy="183.0" r="6.25"/><circle cx="523.5" cy="179.8" r="6.25"/><circle cx="529.8" cy="189.2" r="6.25"/><circle cx="533.3" cy="194.2" r="6.25"/><circle cx="554.7" cy="191.7" r="6.25"/><circle cx="553.5" cy="196.7" r="6.25"/><circle cx="570.3" cy="196.7" r="6.25"/><circle cx="564.4" cy="160.5" r="6.25"/><circle cx="602.2" cy="178.2" r="6.25"/><circle cx="565.7" cy="212.3" r="6.25"/><circle cx="596.6" cy="208.6" r="6.25"/><circle cx="586.3" cy="230.4" r="6.25"/></g>
<line x1="254.88" y1="102.57" x2="602.18" y2="203.98" stroke="#000" stroke-width="4.9"/>
<rect x="0" y="0" width="712.3" height="283.5" fill="none" stroke="#2b2b2b" stroke-width="1.65"/>
<path d="M118.72 283.5v-7.3M118.72 0v7.3M237.43 283.5v-7.3M237.43 0v7.3M356.15 283.5v-7.3M356.15 0v7.3M474.87 283.5v-7.3M474.87 0v7.3M593.58 283.5v-7.3M593.58 0v7.3M0 56.70h7.3M712.3 56.70h-7.3M0 113.40h7.3M712.3 113.40h-7.3M0 170.10h7.3M712.3 170.10h-7.3M0 226.80h7.3M712.3 226.80h-7.3" stroke="#2b2b2b" stroke-width="1.45" fill="none"/>
<g fill="#2b2b2b">
<text transform="translate(0.60,321.90) scale(1,1.06)" font-size="28.3" text-anchor="middle">3.35</text>
<text transform="translate(119.32,321.90) scale(1,1.06)" font-size="28.3" text-anchor="middle">3.4</text>
<text transform="translate(238.03,321.90) scale(1,1.06)" font-size="28.3" text-anchor="middle">3.45</text>
<text transform="translate(356.75,321.90) scale(1,1.06)" font-size="28.3" text-anchor="middle">3.5</text>
<text transform="translate(475.47,321.90) scale(1,1.06)" font-size="28.3" text-anchor="middle">3.55</text>
<text transform="translate(594.18,321.90) scale(1,1.06)" font-size="28.3" text-anchor="middle">3.6</text>
<text transform="translate(712.90,321.90) scale(1,1.06)" font-size="28.3" text-anchor="middle">3.65</text>
<text transform="translate(-9.30,11.40) scale(1,1.06)" font-size="28.3" text-anchor="end">-28</text>
<text transform="translate(-9.30,68.28) scale(1,1.06)" font-size="28.3" text-anchor="end">-29</text>
<text transform="translate(-9.30,125.16) scale(1,1.06)" font-size="28.3" text-anchor="end">-30</text>
<text transform="translate(-9.30,182.04) scale(1,1.06)" font-size="28.3" text-anchor="end">-31</text>
<text transform="translate(-9.30,238.92) scale(1,1.06)" font-size="28.3" text-anchor="end">-32</text>
<text transform="translate(-9.30,295.80) scale(1,1.06)" font-size="28.3" text-anchor="end">-33</text>
<text transform="translate(712.60,366.50) scale(1,1.06)" font-size="28.3" text-anchor="end"><tspan font-family="DejaVu Sans" font-weight="200" font-size="28.30" dy="1.9">×</tspan><tspan dy="-1.9" dx="-0.6">10</tspan><tspan font-size="22.64" dy="-11.60">-3</tspan></text>
<text transform="translate(356.15,370.50) scale(1,1.02)" font-size="31.1" text-anchor="middle">T<tspan font-size="24.88" dy="-14.62">-1</tspan><tspan dy="14.62" dx="0.8"> (K</tspan><tspan font-size="24.88" dy="-14.62">-1</tspan><tspan dy="14.62" dx="0.8">)</tspan></text>
<text transform="translate(-63.60,141.75) rotate(-90) scale(1,1.02)" font-size="31.1" text-anchor="middle">ln(AOUR)</text>
</g>
<g font-weight="bold" fill="#000">
<text transform="translate(24.00,-12.90) scale(1,1.05)" font-size="30.3" text-anchor="middle">(G)</text>
<text transform="translate(19.00,33.20) scale(1,1.06)" font-size="28.15">y = (-12253.6 ± 1604.8) * x + (12.6 ± 5.7)</text>
<text transform="translate(19.00,71.00) scale(1,1.06)" font-size="28.15">R<tspan dx="0.9" font-size="22.52" dy="-12.39">2</tspan><tspan dy="12.39"> = 0.87</tspan></text>
<text transform="translate(71.50,273.00) scale(1,1.03)" font-size="28.15">Molukka Sea</text>
</g>
</g>
<g transform="translate(995.10,1285.70)">
<use href="#cloud"/>
<polygon points="224.1,103.0 258.3,111.5 292.5,119.9 326.7,128.2 360.9,136.3 395.2,144.4 429.4,152.3 463.6,160.1 497.8,167.8 497.8,186.6 463.6,178.1 429.4,169.8 395.2,161.5 360.9,153.3 326.7,145.3 292.5,137.4 258.3,129.5 224.1,121.8" fill="#fb8072" fill-opacity="0.72"/>
<g fill="#fb8072" stroke="#000" stroke-width="1.7"><circle cx="223.3" cy="115.7" r="6.25"/><circle cx="308.9" cy="132.3" r="6.25"/><circle cx="355.0" cy="141.2" r="6.25"/><circle cx="365.8" cy="144.7" r="6.25"/><circle cx="411.1" cy="157.0" r="6.25"/><circle cx="434.5" cy="154.6" r="6.25"/><circle cx="469.7" cy="172.0" r="6.25"/><circle cx="478.2" cy="176.9" r="6.25"/><circle cx="487.9" cy="175.0" r="6.25"/><circle cx="493.8" cy="175.8" r="6.25"/><circle cx="499.2" cy="180.4" r="6.25"/></g>
<line x1="224.06" y1="112.44" x2="497.84" y2="177.23" stroke="#000" stroke-width="4.9"/>
<rect x="0" y="0" width="712.3" height="283.5" fill="none" stroke="#2b2b2b" stroke-width="1.65"/>
<path d="M118.72 283.5v-7.3M118.72 0v7.3M237.43 283.5v-7.3M237.43 0v7.3M356.15 283.5v-7.3M356.15 0v7.3M474.87 283.5v-7.3M474.87 0v7.3M593.58 283.5v-7.3M593.58 0v7.3M0 56.70h7.3M712.3 56.70h-7.3M0 113.40h7.3M712.3 113.40h-7.3M0 170.10h7.3M712.3 170.10h-7.3M0 226.80h7.3M712.3 226.80h-7.3" stroke="#2b2b2b" stroke-width="1.45" fill="none"/>
<g fill="#2b2b2b">
<text transform="translate(0.60,321.90) scale(1,1.06)" font-size="28.3" text-anchor="middle">3.35</text>
<text transform="translate(119.32,321.90) scale(1,1.06)" font-size="28.3" text-anchor="middle">3.4</text>
<text transform="translate(238.03,321.90) scale(1,1.06)" font-size="28.3" text-anchor="middle">3.45</text>
<text transform="translate(356.75,321.90) scale(1,1.06)" font-size="28.3" text-anchor="middle">3.5</text>
<text transform="translate(475.47,321.90) scale(1,1.06)" font-size="28.3" text-anchor="middle">3.55</text>
<text transform="translate(594.18,321.90) scale(1,1.06)" font-size="28.3" text-anchor="middle">3.6</text>
<text transform="translate(712.90,321.90) scale(1,1.06)" font-size="28.3" text-anchor="middle">3.65</text>
<text transform="translate(-9.30,11.40) scale(1,1.06)" font-size="28.3" text-anchor="end">-28</text>
<text transform="translate(-9.30,68.28) scale(1,1.06)" font-size="28.3" text-anchor="end">-29</text>
<text transform="translate(-9.30,125.16) scale(1,1.06)" font-size="28.3" text-anchor="end">-30</text>
<text transform="translate(-9.30,182.04) scale(1,1.06)" font-size="28.3" text-anchor="end">-31</text>
<text transform="translate(-9.30,238.92) scale(1,1.06)" font-size="28.3" text-anchor="end">-32</text>
<text transform="translate(-9.30,295.80) scale(1,1.06)" font-size="28.3" text-anchor="end">-33</text>
<text transform="translate(712.60,366.50) scale(1,1.06)" font-size="28.3" text-anchor="end"><tspan font-family="DejaVu Sans" font-weight="200" font-size="28.30" dy="1.9">×</tspan><tspan dy="-1.9" dx="-0.6">10</tspan><tspan font-size="22.64" dy="-11.60">-3</tspan></text>
<text transform="translate(356.15,370.50) scale(1,1.02)" font-size="31.1" text-anchor="middle">T<tspan font-size="24.88" dy="-14.62">-1</tspan><tspan dy="14.62" dx="0.8"> (K</tspan><tspan font-size="24.88" dy="-14.62">-1</tspan><tspan dy="14.62" dx="0.8">)</tspan></text>
<text transform="translate(-63.60,141.75) rotate(-90) scale(1,1.02)" font-size="31.1" text-anchor="middle">ln(AOUR)</text>
</g>
<g font-weight="bold" fill="#000">
<text transform="translate(24.00,-12.90) scale(1,1.05)" font-size="30.3" text-anchor="middle">(H)</text>
<text transform="translate(19.00,33.20) scale(1,1.06)" font-size="28.15">y = (-9930.6 ± 1014.4) * x + (4.2 ± 3.6)</text>
<text transform="translate(19.00,71.00) scale(1,1.06)" font-size="28.15">R<tspan dx="0.9" font-size="22.52" dy="-12.39">2</tspan><tspan dy="12.39"> = 0.98</tspan></text>
<text transform="translate(71.50,273.00) scale(1,1.03)" font-size="28.15">Halmahera Sea</text>
</g>
</g>
<g transform="translate(95.10,1699.40)">
<use href="#cloud"/>
<polygon points="270.7,104.7 591.6,174.5 591.6,204.0 270.7,133.0" fill="#fb8072" fill-opacity="0.72"/>
<g fill="#fb8072" stroke="#000" stroke-width="1.7"><circle cx="270.5" cy="119.9" r="6.25"/><circle cx="276.1" cy="124.9" r="6.25"/><circle cx="274.6" cy="129.3" r="6.25"/><circle cx="312.9" cy="120.6" r="6.25"/><circle cx="317.9" cy="119.3" r="6.25"/><circle cx="308.2" cy="133.0" r="6.25"/><circle cx="339.2" cy="135.5" r="6.25"/><circle cx="345.1" cy="133.7" r="6.25"/><circle cx="354.4" cy="143.7" r="6.25"/><circle cx="381.0" cy="146.8" r="6.25"/><circle cx="391.3" cy="134.7" r="6.25"/><circle cx="405.1" cy="136.8" r="6.25"/><circle cx="391.0" cy="150.3" r="6.25"/><circle cx="403.5" cy="149.0" r="6.25"/><circle cx="439.9" cy="152.4" r="6.25"/><circle cx="440.5" cy="158.1" r="6.25"/><circle cx="448.0" cy="161.8" r="6.25"/><circle cx="448.6" cy="164.3" r="6.25"/><circle cx="465.8" cy="156.8" r="6.25"/><circle cx="466.1" cy="164.9" r="6.25"/><circle cx="466.1" cy="171.8" r="6.25"/><circle cx="477.3" cy="169.9" r="6.25"/><circle cx="500.4" cy="168.0" r="6.25"/><circle cx="499.2" cy="171.8" r="6.25"/><circle cx="500.4" cy="176.8" r="6.25"/><circle cx="512.9" cy="165.8" r="6.25"/><circle cx="520.4" cy="156.2" r="6.25"/><circle cx="543.5" cy="180.3" r="6.25"/><circle cx="557.0" cy="183.0" r="6.25"/><circle cx="563.5" cy="188.0" r="6.25"/><circle cx="571.6" cy="188.6" r="6.25"/><circle cx="589.9" cy="174.3" r="6.25"/><circle cx="590.7" cy="184.3" r="6.25"/><circle cx="591.6" cy="192.4" r="6.25"/><circle cx="592.8" cy="201.7" r="6.25"/><circle cx="589.4" cy="201.7" r="6.25"/></g>
<line x1="271.12" y1="119.41" x2="591.57" y2="190.16" stroke="#000" stroke-width="4.9"/>
<g transform="translate(0,0.45)">
<rect x="0" y="0" width="712.3" height="282.6" fill="none" stroke="#2b2b2b" stroke-width="1.65"/>
<path d="M118.72 282.6v-7.3M118.72 0v7.3M237.43 282.6v-7.3M237.43 0v7.3M356.15 282.6v-7.3M356.15 0v7.3M474.87 282.6v-7.3M474.87 0v7.3M593.58 282.6v-7.3M593.58 0v7.3M0 56.52h7.3M712.3 56.52h-7.3M0 113.04h7.3M712.3 113.04h-7.3M0 169.56h7.3M712.3 169.56h-7.3M0 226.08h7.3M712.3 226.08h-7.3" stroke="#2b2b2b" stroke-width="1.45" fill="none"/>
<g fill="#2b2b2b">
<text transform="translate(0.60,321.00) scale(1,1.06)" font-size="28.3" text-anchor="middle">3.35</text>
<text transform="translate(119.32,321.00) scale(1,1.06)" font-size="28.3" text-anchor="middle">3.4</text>
<text transform="translate(238.03,321.00) scale(1,1.06)" font-size="28.3" text-anchor="middle">3.45</text>
<text transform="translate(356.75,321.00) scale(1,1.06)" font-size="28.3" text-anchor="middle">3.5</text>
<text transform="translate(475.47,321.00) scale(1,1.06)" font-size="28.3" text-anchor="middle">3.55</text>
<text transform="translate(594.18,321.00) scale(1,1.06)" font-size="28.3" text-anchor="middle">3.6</text>
<text transform="translate(712.90,321.00) scale(1,1.06)" font-size="28.3" text-anchor="middle">3.65</text>
<text transform="translate(-9.30,11.40) scale(1,1.06)" font-size="28.3" text-anchor="end">-28</text>
<text transform="translate(-9.30,68.10) scale(1,1.06)" font-size="28.3" text-anchor="end">-29</text>
<text transform="translate(-9.30,124.80) scale(1,1.06)" font-size="28.3" text-anchor="end">-30</text>
<text transform="translate(-9.30,181.50) scale(1,1.06)" font-size="28.3" text-anchor="end">-31</text>
<text transform="translate(-9.30,238.20) scale(1,1.06)" font-size="28.3" text-anchor="end">-32</text>
<text transform="translate(-9.30,294.90) scale(1,1.06)" font-size="28.3" text-anchor="end">-33</text>
<text transform="translate(712.60,365.60) scale(1,1.06)" font-size="28.3" text-anchor="end"><tspan font-family="DejaVu Sans" font-weight="200" font-size="28.30" dy="1.9">×</tspan><tspan dy="-1.9" dx="-0.6">10</tspan><tspan font-size="22.64" dy="-11.60">-3</tspan></text>
<text transform="translate(356.15,369.60) scale(1,1.02)" font-size="31.1" text-anchor="middle">T<tspan font-size="24.88" dy="-14.62">-1</tspan><tspan dy="14.62" dx="0.8"> (K</tspan><tspan font-size="24.88" dy="-14.62">-1</tspan><tspan dy="14.62" dx="0.8">)</tspan></text>
<text transform="translate(-63.60,141.30) rotate(-90) scale(1,1.02)" font-size="31.1" text-anchor="middle">ln(AOUR)</text>
</g>
<g font-weight="bold" fill="#000">
<text transform="translate(24.00,-12.90) scale(1,1.05)" font-size="30.3" text-anchor="middle">(I)</text>
<text transform="translate(19.00,33.20) scale(1,1.06)" font-size="28.15">y = (-9265.3 ± 958.2) * x + (2.0 ± 3.4)</text>
<text transform="translate(19.00,71.00) scale(1,1.06)" font-size="28.15">R<tspan dx="0.9" font-size="22.52" dy="-12.39">2</tspan><tspan dy="12.39"> = 0.91</tspan></text>
<text transform="translate(71.50,273.00) scale(1,1.03)" font-size="28.15">Ceram Sea</text>
</g>
</g>
</g>
<g transform="translate(995.10,1699.40)">
<use href="#cloud"/>
<polygon points="219.0,60.8 615.8,173.0 615.8,219.5 219.0,109.3" fill="#fb8072" fill-opacity="0.72"/>
<g fill="#fb8072" stroke="#000" stroke-width="1.7"><circle cx="218.6" cy="102.7" r="6.25"/><circle cx="234.2" cy="110.8" r="6.25"/><circle cx="241.7" cy="105.2" r="6.25"/><circle cx="273.9" cy="80.8" r="6.25"/><circle cx="315.1" cy="84.3" r="6.25"/><circle cx="308.3" cy="96.2" r="6.25"/><circle cx="268.6" cy="109.5" r="6.25"/><circle cx="273.3" cy="111.8" r="6.25"/><circle cx="274.2" cy="118.0" r="6.25"/><circle cx="284.8" cy="117.1" r="6.25"/><circle cx="283.6" cy="128.0" r="6.25"/><circle cx="292.3" cy="107.4" r="6.25"/><circle cx="299.8" cy="109.3" r="6.25"/><circle cx="303.5" cy="106.8" r="6.25"/><circle cx="300.2" cy="123.3" r="6.25"/><circle cx="313.5" cy="109.9" r="6.25"/><circle cx="325.4" cy="105.2" r="6.25"/><circle cx="334.1" cy="114.9" r="6.25"/><circle cx="335.6" cy="121.8" r="6.25"/><circle cx="352.2" cy="109.5" r="6.25"/><circle cx="366.2" cy="111.5" r="6.25"/><circle cx="365.9" cy="118.6" r="6.25"/><circle cx="358.5" cy="133.0" r="6.25"/><circle cx="385.5" cy="107.5" r="6.25"/><circle cx="390.5" cy="128.7" r="6.25"/><circle cx="396.8" cy="126.2" r="6.25"/><circle cx="401.8" cy="130.6" r="6.25"/><circle cx="413.6" cy="126.6" r="6.25"/><circle cx="408.6" cy="140.5" r="6.25"/><circle cx="416.4" cy="144.9" r="6.25"/><circle cx="429.5" cy="133.9" r="6.25"/><circle cx="427.7" cy="153.0" r="6.25"/><circle cx="441.7" cy="153.0" r="6.25"/><circle cx="449.2" cy="147.4" r="6.25"/><circle cx="452.3" cy="155.5" r="6.25"/><circle cx="455.4" cy="154.3" r="6.25"/><circle cx="454.8" cy="158.6" r="6.25"/><circle cx="461.1" cy="133.7" r="6.25"/><circle cx="466.0" cy="136.8" r="6.25"/><circle cx="459.8" cy="143.0" r="6.25"/><circle cx="462.3" cy="151.8" r="6.25"/><circle cx="466.7" cy="165.5" r="6.25"/><circle cx="473.5" cy="156.1" r="6.25"/><circle cx="479.2" cy="159.9" r="6.25"/><circle cx="478.9" cy="173.0" r="6.25"/><circle cx="481.7" cy="140.5" r="6.25"/><circle cx="484.8" cy="143.3" r="6.25"/><circle cx="487.3" cy="149.9" r="6.25"/><circle cx="487.3" cy="158.6" r="6.25"/><circle cx="491.6" cy="166.1" r="6.25"/><circle cx="502.0" cy="136.8" r="6.25"/><circle cx="502.9" cy="168.6" r="6.25"/><circle cx="509.7" cy="165.5" r="6.25"/><circle cx="513.5" cy="162.4" r="6.25"/><circle cx="514.7" cy="173.6" r="6.25"/><circle cx="514.7" cy="179.9" r="6.25"/><circle cx="524.1" cy="149.3" r="6.25"/><circle cx="526.0" cy="158.6" r="6.25"/><circle cx="522.2" cy="163.0" r="6.25"/><circle cx="522.2" cy="171.7" r="6.25"/><circle cx="528.5" cy="176.7" r="6.25"/><circle cx="534.1" cy="181.7" r="6.25"/><circle cx="535.7" cy="166.8" r="6.25"/><circle cx="541.0" cy="171.7" r="6.25"/><circle cx="548.4" cy="182.4" r="6.25"/><circle cx="553.4" cy="176.7" r="6.25"/><circle cx="553.4" cy="182.4" r="6.25"/><circle cx="555.3" cy="197.3" r="6.25"/><circle cx="562.8" cy="163.0" r="6.25"/><circle cx="563.4" cy="166.4" r="6.25"/><circle cx="567.8" cy="165.5" r="6.25"/><circle cx="566.5" cy="173.6" r="6.25"/><circle cx="562.2" cy="183.0" r="6.25"/><circle cx="564.7" cy="188.0" r="6.25"/><circle cx="568.4" cy="190.5" r="6.25"/><circle cx="574.7" cy="182.4" r="6.25"/><circle cx="579.0" cy="198.0" r="6.25"/><circle cx="578.4" cy="203.6" r="6.25"/><circle cx="587.3" cy="176.8" r="6.25"/><circle cx="585.5" cy="180.5" r="6.25"/><circle cx="588.6" cy="185.5" r="6.25"/><circle cx="591.7" cy="193.0" r="6.25"/><circle cx="597.3" cy="178.7" r="6.25"/><circle cx="602.9" cy="188.0" r="6.25"/><circle cx="596.1" cy="158.7" r="6.25"/><circle cx="588.6" cy="202.4" r="6.25"/><circle cx="594.6" cy="201.8" r="6.25"/><circle cx="597.3" cy="198.0" r="6.25"/><circle cx="594.2" cy="213.0" r="6.25"/><circle cx="615.7" cy="237.3" r="6.25"/></g>
<line x1="219.26" y1="84.76" x2="615.42" y2="195.94" stroke="#000" stroke-width="4.9"/>
<g transform="translate(0,0.45)">
<rect x="0" y="0" width="712.3" height="282.6" fill="none" stroke="#2b2b2b" stroke-width="1.65"/>
<path d="M118.72 282.6v-7.3M118.72 0v7.3M237.43 282.6v-7.3M237.43 0v7.3M356.15 282.6v-7.3M356.15 0v7.3M474.87 282.6v-7.3M474.87 0v7.3M593.58 282.6v-7.3M593.58 0v7.3M0 56.52h7.3M712.3 56.52h-7.3M0 113.04h7.3M712.3 113.04h-7.3M0 169.56h7.3M712.3 169.56h-7.3M0 226.08h7.3M712.3 226.08h-7.3" stroke="#2b2b2b" stroke-width="1.45" fill="none"/>
<g fill="#2b2b2b">
<text transform="translate(0.60,321.00) scale(1,1.06)" font-size="28.3" text-anchor="middle">3.35</text>
<text transform="translate(119.32,321.00) scale(1,1.06)" font-size="28.3" text-anchor="middle">3.4</text>
<text transform="translate(238.03,321.00) scale(1,1.06)" font-size="28.3" text-anchor="middle">3.45</text>
<text transform="translate(356.75,321.00) scale(1,1.06)" font-size="28.3" text-anchor="middle">3.5</text>
<text transform="translate(475.47,321.00) scale(1,1.06)" font-size="28.3" text-anchor="middle">3.55</text>
<text transform="translate(594.18,321.00) scale(1,1.06)" font-size="28.3" text-anchor="middle">3.6</text>
<text transform="translate(712.90,321.00) scale(1,1.06)" font-size="28.3" text-anchor="middle">3.65</text>
<text transform="translate(-9.30,11.40) scale(1,1.06)" font-size="28.3" text-anchor="end">-28</text>
<text transform="translate(-9.30,68.10) scale(1,1.06)" font-size="28.3" text-anchor="end">-29</text>
<text transform="translate(-9.30,124.80) scale(1,1.06)" font-size="28.3" text-anchor="end">-30</text>
<text transform="translate(-9.30,181.50) scale(1,1.06)" font-size="28.3" text-anchor="end">-31</text>
<text transform="translate(-9.30,238.20) scale(1,1.06)" font-size="28.3" text-anchor="end">-32</text>
<text transform="translate(-9.30,294.90) scale(1,1.06)" font-size="28.3" text-anchor="end">-33</text>
<text transform="translate(712.60,365.60) scale(1,1.06)" font-size="28.3" text-anchor="end"><tspan font-family="DejaVu Sans" font-weight="200" font-size="28.30" dy="1.9">×</tspan><tspan dy="-1.9" dx="-0.6">10</tspan><tspan font-size="22.64" dy="-11.60">-3</tspan></text>
<text transform="translate(356.15,369.60) scale(1,1.02)" font-size="31.1" text-anchor="middle">T<tspan font-size="24.88" dy="-14.62">-1</tspan><tspan dy="14.62" dx="0.8"> (K</tspan><tspan font-size="24.88" dy="-14.62">-1</tspan><tspan dy="14.62" dx="0.8">)</tspan></text>
<text transform="translate(-63.60,141.30) rotate(-90) scale(1,1.02)" font-size="31.1" text-anchor="middle">ln(AOUR)</text>
</g>
<g font-weight="bold" fill="#000">
<text transform="translate(24.00,-12.90) scale(1,1.05)" font-size="30.3" text-anchor="middle">(J)</text>
<text transform="translate(19.00,33.20) scale(1,1.06)" font-size="28.15">y = (-11777.1 ± 845.2) * x + (11.0 ± 3.0)</text>
<text transform="translate(19.00,71.00) scale(1,1.06)" font-size="28.15">R<tspan dx="0.9" font-size="22.52" dy="-12.39">2</tspan><tspan dy="12.39"> = 0.86</tspan></text>
<text transform="translate(71.50,273.00) scale(1,1.03)" font-size="28.15">Banda Sea</text>
</g>
</g>
</g>
<g transform="translate(95.10,2113.10)">
<use href="#cloud"/>
<polygon points="305.5,85.6 593.2,175.6 593.2,215.5 305.5,126.8" fill="#8dd3c7" fill-opacity="0.7"/>
<g fill="#8dd3c7" stroke="#000" stroke-width="1.7"><circle cx="313.6" cy="101.9" r="6.25"/><circle cx="304.8" cy="113.7" r="6.25"/><circle cx="308.6" cy="118.1" r="6.25"/><circle cx="315.7" cy="117.8" r="6.25"/><circle cx="330.4" cy="119.3" r="6.25"/><circle cx="381.6" cy="122.2" r="6.25"/><circle cx="374.5" cy="140.2" r="6.25"/><circle cx="388.5" cy="133.1" r="6.25"/><circle cx="410.3" cy="133.1" r="6.25"/><circle cx="420.9" cy="133.7" r="6.25"/><circle cx="417.2" cy="137.4" r="6.25"/><circle cx="433.2" cy="143.1" r="6.25"/><circle cx="454.7" cy="146.2" r="6.25"/><circle cx="466.1" cy="132.5" r="6.25"/><circle cx="467.6" cy="148.7" r="6.25"/><circle cx="463.4" cy="158.1" r="6.25"/><circle cx="476.1" cy="159.3" r="6.25"/><circle cx="479.6" cy="157.8" r="6.25"/><circle cx="485.8" cy="165.0" r="6.25"/><circle cx="530.4" cy="163.7" r="6.25"/><circle cx="524.2" cy="169.9" r="6.25"/><circle cx="526.0" cy="184.1" r="6.25"/><circle cx="510.8" cy="189.3" r="6.25"/><circle cx="567.2" cy="181.2" r="6.25"/><circle cx="559.7" cy="188.3" r="6.25"/><circle cx="566.2" cy="204.0" r="6.25"/><circle cx="592.2" cy="186.8" r="6.25"/><circle cx="591.2" cy="201.2" r="6.25"/><circle cx="593.2" cy="214.3" r="6.25"/></g>
<line x1="306.71" y1="106.45" x2="592.20" y2="195.69" stroke="#000" stroke-width="4.9"/>
<rect x="0" y="0" width="712.3" height="283.4" fill="none" stroke="#2b2b2b" stroke-width="1.65"/>
<path d="M118.72 283.4v-7.3M118.72 0v7.3M237.43 283.4v-7.3M237.43 0v7.3M356.15 283.4v-7.3M356.15 0v7.3M474.87 283.4v-7.3M474.87 0v7.3M593.58 283.4v-7.3M593.58 0v7.3M0 56.68h7.3M712.3 56.68h-7.3M0 113.36h7.3M712.3 113.36h-7.3M0 170.04h7.3M712.3 170.04h-7.3M0 226.72h7.3M712.3 226.72h-7.3" stroke="#2b2b2b" stroke-width="1.45" fill="none"/>
<g fill="#2b2b2b">
<text transform="translate(0.60,321.80) scale(1,1.06)" font-size="28.3" text-anchor="middle">3.35</text>
<text transform="translate(119.32,321.80) scale(1,1.06)" font-size="28.3" text-anchor="middle">3.4</text>
<text transform="translate(238.03,321.80) scale(1,1.06)" font-size="28.3" text-anchor="middle">3.45</text>
<text transform="translate(356.75,321.80) scale(1,1.06)" font-size="28.3" text-anchor="middle">3.5</text>
<text transform="translate(475.47,321.80) scale(1,1.06)" font-size="28.3" text-anchor="middle">3.55</text>
<text transform="translate(594.18,321.80) scale(1,1.06)" font-size="28.3" text-anchor="middle">3.6</text>
<text transform="translate(712.90,321.80) scale(1,1.06)" font-size="28.3" text-anchor="middle">3.65</text>
<text transform="translate(-9.30,11.40) scale(1,1.06)" font-size="28.3" text-anchor="end">-28</text>
<text transform="translate(-9.30,68.26) scale(1,1.06)" font-size="28.3" text-anchor="end">-29</text>
<text transform="translate(-9.30,125.12) scale(1,1.06)" font-size="28.3" text-anchor="end">-30</text>
<text transform="translate(-9.30,181.98) scale(1,1.06)" font-size="28.3" text-anchor="end">-31</text>
<text transform="translate(-9.30,238.84) scale(1,1.06)" font-size="28.3" text-anchor="end">-32</text>
<text transform="translate(-9.30,295.70) scale(1,1.06)" font-size="28.3" text-anchor="end">-33</text>
<text transform="translate(712.60,366.40) scale(1,1.06)" font-size="28.3" text-anchor="end"><tspan font-family="DejaVu Sans" font-weight="200" font-size="28.30" dy="1.9">×</tspan><tspan dy="-1.9" dx="-0.6">10</tspan><tspan font-size="22.64" dy="-11.60">-3</tspan></text>
<text transform="translate(356.15,370.40) scale(1,1.02)" font-size="31.1" text-anchor="middle">T<tspan font-size="24.88" dy="-14.62">-1</tspan><tspan dy="14.62" dx="0.8"> (K</tspan><tspan font-size="24.88" dy="-14.62">-1</tspan><tspan dy="14.62" dx="0.8">)</tspan></text>
<text transform="translate(-63.60,141.70) rotate(-90) scale(1,1.02)" font-size="31.1" text-anchor="middle">ln(AOUR)</text>
</g>
<g font-weight="bold" fill="#000">
<text transform="translate(24.00,-12.90) scale(1,1.05)" font-size="30.3" text-anchor="middle">(K)</text>
<text transform="translate(19.00,33.20) scale(1,1.06)" font-size="28.15">y = (-13117.4 ± 1708.4) * x + (15.8 ± 6.1)</text>
<text transform="translate(19.00,71.00) scale(1,1.06)" font-size="28.15">R<tspan dx="0.9" font-size="22.52" dy="-12.39">2</tspan><tspan dy="12.39"> = 0.90</tspan></text>
<text transform="translate(71.50,273.00) scale(1,1.03)" font-size="28.15">Timor Sea</text>
</g>
</g>
</svg>
</body></html>
